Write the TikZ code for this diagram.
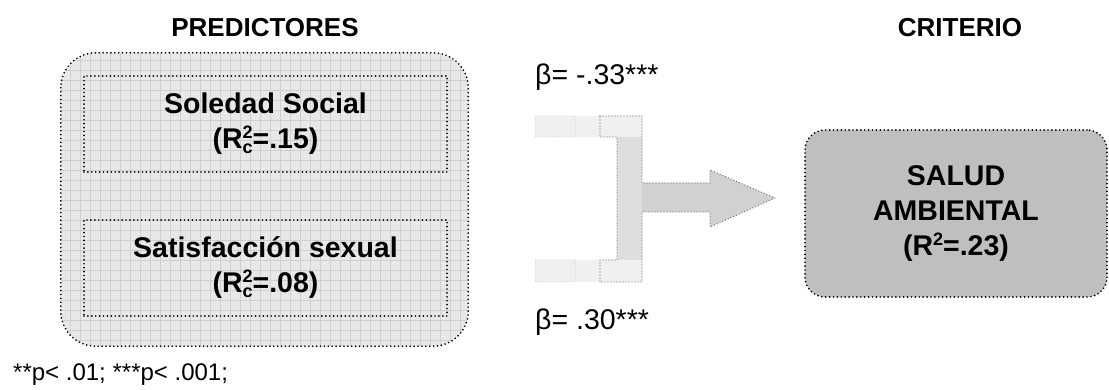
\documentclass[tikz,border=0pt]{standalone}
\usepackage{fontspec}
\setmainfont{Liberation Sans}
\newcommand{\supsubrc}[2]{\rlap{\raisebox{10pt}{\fontsize{18}{18}\selectfont #1}}\raisebox{-5pt}{\fontsize{18}{18}\selectfont #2}}
\newcommand{\supone}[1]{\raisebox{10pt}{\fontsize{18}{18}\selectfont #1}}
\begin{document}
\begin{tikzpicture}[x=1pt,y=-1pt,
  dotbox/.style={draw=black, line width=1.9pt, dash pattern=on 0pt off 3.9pt, line cap=round},
  heading/.style={font=\fontsize{26}{30}\selectfont\bfseries, inner sep=0pt},
  boxtext/.style={font=\fontsize{28.5}{35}\selectfont\bfseries, align=center, inner sep=0pt},
  betatext/.style={font=\fontsize{28.5}{32}\selectfont, anchor=west, inner sep=0pt},
  notetext/.style={font=\fontsize{24}{28}\selectfont, anchor=west, inner sep=0pt},
  bigarrow/.style={draw=black!60, line width=1.3pt, dash pattern=on 0pt off 3pt, line cap=round, line join=round}
]
\useasboundingbox (0,0) rectangle (1109,390);

% predictor container
\node (pred) [minimum width=407pt, minimum height=293pt, rounded corners=35pt, fill=black!9, inner sep=0pt] at (264.5,199.5) {};
\begin{scope}
  \clip[rounded corners=35pt] (pred.north west) rectangle (pred.south east);
  \draw[black!19, line width=0.7pt, step=10pt] (pred.north west) grid (pred.south east);
\end{scope}
\draw[dotbox, rounded corners=35pt] (pred.north west) rectangle (pred.south east);

% inner predictor boxes
\node (soc) [dotbox, minimum width=363pt, minimum height=96pt, boxtext] at (265.5,124) {Soledad Social\\(R\supsubrc{2}{c}=.15)};
\node (sat) [dotbox, minimum width=363pt, minimum height=96pt, boxtext] at (265.5,268) {Satisfacción sexual\\(R\supsubrc{2}{c}=.08)};

% criterion box
\node (salud) [dotbox, fill=black!25, rounded corners=20pt, minimum width=302pt, minimum height=167pt, boxtext] at (956,213.5) {SALUD\\AMBIENTAL\\(R\supone{2}=.23)};

% headings
\node (hp) [heading] at (265,28) {PREDICTORES};
\node (hc) [heading] at (960,28) {CRITERIO};

% betas
\node (b1) [betatext] at (535,77) {β= -.33***};
\node (b2) [betatext] at (535,322) {β= .30***};

% block arrow
\fill[black!6] (535,116) -- (642,116) -- (642,282) -- (535,282) -- (535,260) -- (617,260) -- (617,137) -- (535,137) -- cycle;
\fill[black!13] (617,137) rectangle (642,260);
\fill[black!18] (642,183) -- (710,183) -- (710,170) -- (775,198) -- (710,227) -- (710,212) -- (642,212) -- cycle;
\draw[bigarrow] (600,116) -- (642,116) -- (642,183) -- (710,183) -- (710,170) -- (775,198) -- (710,227) -- (710,212) -- (642,212) -- (642,282) -- (600,282) -- (600,260) -- (617,260) -- (617,137) -- (600,137) -- cycle;
\draw[black!28, line width=1pt, dash pattern=on 0pt off 3pt, line cap=round] (535,116) rectangle (575,137) (535,260) rectangle (575,282);

% footnote
\node (fn) [notetext] at (13,375) {**p< .01; ***p< .001;};
\end{tikzpicture}
\end{document}
